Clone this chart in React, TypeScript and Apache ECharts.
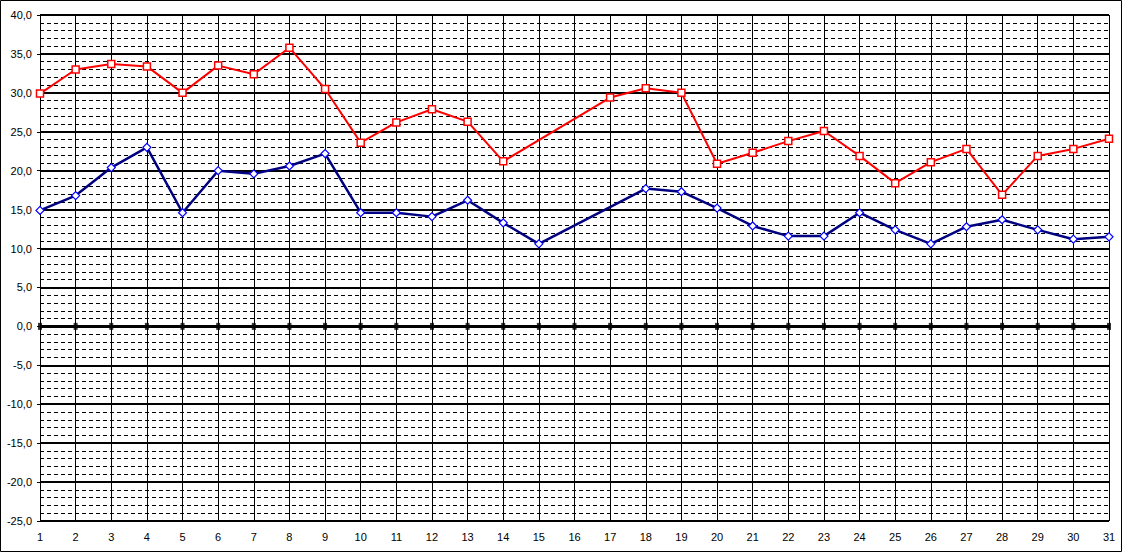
import React, { useEffect, useRef } from "react";
import * as echarts from "echarts";

const categories = Array.from({ length: 31 }, (_, i) => String(i + 1));
const maxSeries: (number | null)[] = [
  29.9, 33.0, 33.7, 33.4, 30.0, 33.5, 32.4, 35.8, 30.5, 23.6, 26.2, 27.9, 26.3, 21.2, null, null,
  29.4, 30.6, 30.0, 20.9, 22.3, 23.8, 25.1, 21.9, 18.4, 21.1, 22.8, 16.9, 21.9, 22.8, 24.1,
];
const minSeries: (number | null)[] = [
  14.9, 16.8, 20.4, 23.0, 14.6, 20.0, 19.6, 20.6, 22.2, 14.6, 14.6, 14.1, 16.2, 13.3, 10.6, null,
  null, 17.7, 17.3, 15.2, 12.9, 11.6, 11.6, 14.6, 12.4, 10.6, 12.8, 13.7, 12.4, 11.2, 11.5,
];
const yMin = -25;
const yMax = 40;
const yStep = 5;
const zeroTicks = categories.map((_, i) => [i, 0]);

export default function App() {
  const ref = useRef<HTMLDivElement>(null);
  useEffect(() => {
    if (!ref.current) return;
    const chart = echarts.init(ref.current, undefined, { renderer: "svg" });
    const font = "'Liberation Sans', Arial, sans-serif";
    chart.setOption({
      animation: false,
      backgroundColor: "#fff",
      textStyle: { fontFamily: font },
      grid: { left: 40, right: 13, top: 15, bottom: 31, containLabel: false },
      graphic: [
        {
          type: "rect",
          shape: { x: 0.5, y: 0.5, width: 1121, height: 551 },
          style: { fill: "none", stroke: "#000", lineWidth: 1 },
          silent: true,
          z: 100,
        },
      ],
      xAxis: {
        type: "category",
        data: categories,
        boundaryGap: false,
        axisLine: { show: false, onZero: false },
        axisTick: { show: false },
        axisLabel: { color: "#000", fontSize: 11, fontFamily: font, margin: 10, interval: 0 },
        splitLine: { show: true, interval: 0, lineStyle: { color: "#000", width: 1 } },
      },
      yAxis: {
        type: "value",
        min: yMin,
        max: yMax,
        interval: yStep,
        axisLine: { show: true, lineStyle: { color: "#000", width: 1 } },
        axisTick: { show: true, length: 3, lineStyle: { color: "#000" } },
        axisLabel: {
          color: "#000",
          fontSize: 11,
          fontFamily: font,
          margin: 8,
          formatter: (v: number) => v.toFixed(1).replace(".", ","),
        },
        splitLine: { show: true, lineStyle: { color: "#000", width: 2 } },
        minorTick: { show: false, splitNumber: 5 },
        minorSplitLine: { show: true, lineStyle: { color: "#000", width: 1, type: [4, 3] } },
      },
      series: [
        {
          type: "scatter",
          data: zeroTicks,
          symbol: "rect",
          symbolSize: [4, 7],
          itemStyle: { color: "#000" },
          silent: true,
          z: 1,
          markLine: {
            silent: true,
            symbol: ["none", "none"],
            label: { show: false },
            lineStyle: { color: "#000", width: 3, type: "solid" },
            data: [{ yAxis: 0 }],
          },
        },
        {
          type: "line",
          name: "max",
          data: maxSeries,
          connectNulls: true,
          symbol: "rect",
          symbolSize: 7,
          showAllSymbol: true,
          lineStyle: { color: "#FF0000", width: 2 },
          itemStyle: { color: "#fff", borderColor: "#FF0000", borderWidth: 1.5 },
          z: 3,
        },
        {
          type: "line",
          name: "min",
          data: minSeries,
          connectNulls: true,
          symbol: "diamond",
          symbolSize: 8,
          showAllSymbol: true,
          lineStyle: { color: "#000080", width: 2.5 },
          itemStyle: { color: "#fff", borderColor: "#0000FF", borderWidth: 1.2 },
          z: 3,
        },
      ],
    });
    return () => chart.dispose();
  }, []);
  return (
    <div
      ref={ref}
      style={{ position: "absolute", left: 0, top: 0, width: 1122, height: 552, background: "#fff" }}
    />
  );
}
